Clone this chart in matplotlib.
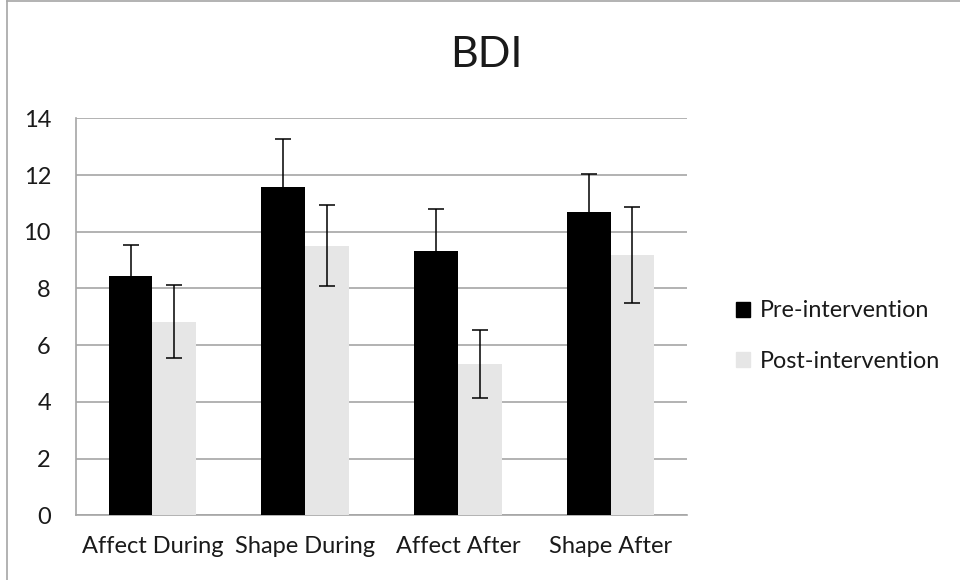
import matplotlib.pyplot as plt
import numpy as np
from matplotlib.lines import Line2D
from matplotlib.patches import Patch

# データ
categories = ["Affect During", "Shape During", "Affect After", "Shape After"]
pre_values = [8.44, 11.59, 9.31, 10.68]
pre_errors = [1.10, 1.68, 1.49, 1.34]
post_values = [6.83, 9.50, 5.33, 9.19]
post_errors = [1.30, 1.43, 1.20, 1.69]
series_labels = ["Pre-intervention", "Post-intervention"]
y_ticks = [0, 2, 4, 6, 8, 10, 12, 14]

plt.rcParams["font.family"] = ["Lato", "DejaVu Sans"]
TEXT = "#1a1a1a"

W, H = 960, 580
fig = plt.figure(figsize=(W / 100, H / 100), dpi=100)

# 外枠 (左と上だけ見えている)
fig.add_artist(Line2D([7 / W, 7 / W], [0, 1 - 1 / H], color="#a6a6a6", lw=1.2))
fig.add_artist(Line2D([7 / W, 1], [1 - 1 / H, 1 - 1 / H], color="#a6a6a6", lw=1.2))

ax = fig.add_axes([76 / W, 1 - 515.3 / H, 611 / W, 397 / H])

x = np.arange(len(categories))
bw = 0.286
err_kw = dict(ecolor="black", elinewidth=1.1, capsize=5.5, capthick=1.1)
ax.bar(x - bw / 2, pre_values, bw, yerr=pre_errors, color="black",
       error_kw=err_kw, zorder=3)
ax.bar(x + bw / 2, post_values, bw, yerr=post_errors, color="#e6e6e6",
       error_kw=err_kw, zorder=3)

ax.set_xlim(-0.5, len(categories) - 0.5)
ax.set_ylim(0, 14)
ax.set_yticks(y_ticks)
ax.set_xticks(x)
ax.set_xticklabels(categories)
ax.tick_params(axis="both", length=0, labelsize=17, labelcolor=TEXT)
ax.tick_params(axis="y", pad=18)
ax.tick_params(axis="x", pad=15)
ax.yaxis.grid(True, color="#a6a6a6", lw=1.2, zorder=0)
ax.set_axisbelow(True)
for s in ["top", "right"]:
    ax.spines[s].set_visible(False)
ax.spines["left"].set_color("#a6a6a6")
ax.spines["bottom"].set_color("#a6a6a6")
ax.spines["left"].set_linewidth(1.2)
ax.spines["bottom"].set_linewidth(1.2)

fig.text(486 / W, 1 - 55 / H, "BDI", ha="center", va="center", fontsize=31,
         color=TEXT)

handles = [Patch(color="black"), Patch(color="#e6e6e6")]
leg = fig.legend(handles, series_labels, loc="center left",
                 bbox_to_anchor=(727 / W, 1 - 336 / H), frameon=False,
                 fontsize=16.8, handlelength=0.6, handleheight=0.6,
                 handletextpad=0.4, labelspacing=1.25, borderaxespad=0)
for t in leg.get_texts():
    t.set_color(TEXT)

fig.savefig("out.png", dpi=100)
